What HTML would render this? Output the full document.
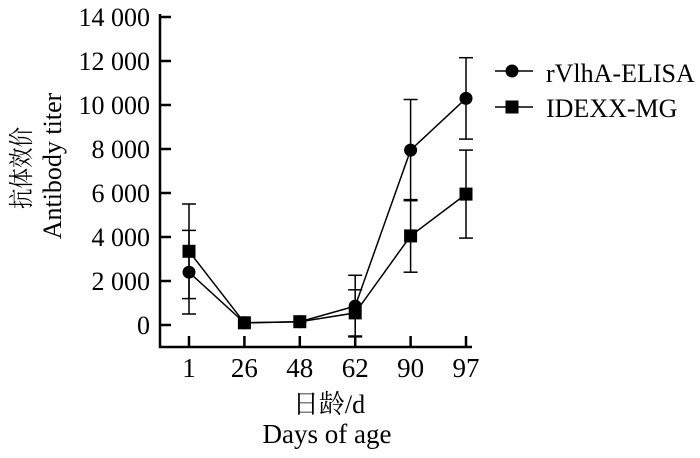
<!DOCTYPE html>
<html><head><meta charset="utf-8"><style>
body{margin:0;background:#fff}
svg text{font-family:"Liberation Serif","Noto Serif CJK SC",serif;fill:#000}
</style></head><body>
<svg id="chart" width="700" height="453"></svg>
<script>
const categories=["1","26","48","62","90","97"];
const rvlhaValues=[2400,100,150,860,7950,10300];
const rvlhaErrors=[1900,0,0,1400,2300,1850];
const idexxValues=[3350,100,150,550,4050,5950];
const idexxErrors=[2150,0,0,1050,1650,2000];
const yTicks=[0,2000,4000,6000,8000,10000,12000,14000];
const yTickLabels=["0","2 000","4 000","6 000","8 000","10 000","12 000","14 000"];

const NS="http://www.w3.org/2000/svg";
const svg=document.getElementById('chart');
const y=v=>325-v*44/2000;
const x=i=>189+i*55.4;
function mk(t,a,p){const e=document.createElementNS(NS,t);for(const k in a)e.setAttribute(k,a[k]);(p||svg).appendChild(e);return e;}
function ln(x1,y1,x2,y2,w){return mk('line',{x1,y1,x2,y2,stroke:'#000','stroke-width':w||1.5});}
function txt(px,py,s,size,anchor,rot,sx){
 const t=mk('text',{x:0,y:0,'font-size':size,'text-anchor':anchor||'start',
  transform:'translate('+px+' '+py+')'+(rot?' rotate('+rot+')':'')+' scale('+(sx||1)+' 1)'});
 t.textContent=s;return t;}

let a=ln(160,14,160,348,2.5);


a=ln(159,347,472,347,2.5);


yTicks.forEach((v,i)=>{ln(160,y(v),171,y(v),2.5);
 const t=txt(150,y(v)+9,yTickLabels[i],26,'end');
 
 });
categories.forEach((c,i)=>{ln(x(i),347,x(i),336,2.5);
 const t=txt(x(i),377,c,27,'middle');
 
 });

function series(vals,errs,shape,name){
 const g=mk('g',{});
 
 
 vals.forEach((v,i)=>{if(errs[i]>0){const t=y(v+errs[i]),b=y(v-errs[i]);
  mk('line',{x1:x(i),y1:t,x2:x(i),y2:b,stroke:'#000','stroke-width':1.5},g);
  mk('line',{x1:x(i)-7,y1:t,x2:x(i)+7,y2:t,stroke:'#000','stroke-width':1.5},g);
  mk('line',{x1:x(i)-7,y1:b,x2:x(i)+7,y2:b,stroke:'#000','stroke-width':1.5},g);}});
 mk('polyline',{points:vals.map((v,i)=>x(i)+','+y(v)).join(' '),fill:'none',stroke:'#000','stroke-width':1.5},g);
 vals.forEach((v,i)=>{let m;
  if(shape==='c')m=mk('circle',{cx:x(i),cy:y(v),r:6.5,fill:'#000'},g);
  else m=mk('rect',{x:x(i)-6.5,y:y(v)-6.5,width:13,height:13,fill:'#000'},g);
  
  });
}
series(idexxValues,idexxErrors,'s','idexx-mg');
series(rvlhaValues,rvlhaErrors,'c','rvlha-elisa');

// legend
ln(495,71,533,71);mk('circle',{cx:512,cy:71,r:6.5,fill:'#000'});
let t=txt(546,82,'rVlhA-ELISA',26);


ln(495,107,533,107);mk('rect',{x:505.5,y:100.5,width:13,height:13,fill:'#000'});
t=txt(546,117,'IDEXX-MG',26);



t=txt(30,168,'抗体效价',25,'middle',-90,0.82);


t=txt(61,166,'Antibody titer',26,'middle',-90);


t=txt(329,413,'日龄/d',26,'middle');


t=txt(327,443,'Days of age',27,'middle');


</script>
</body></html>
